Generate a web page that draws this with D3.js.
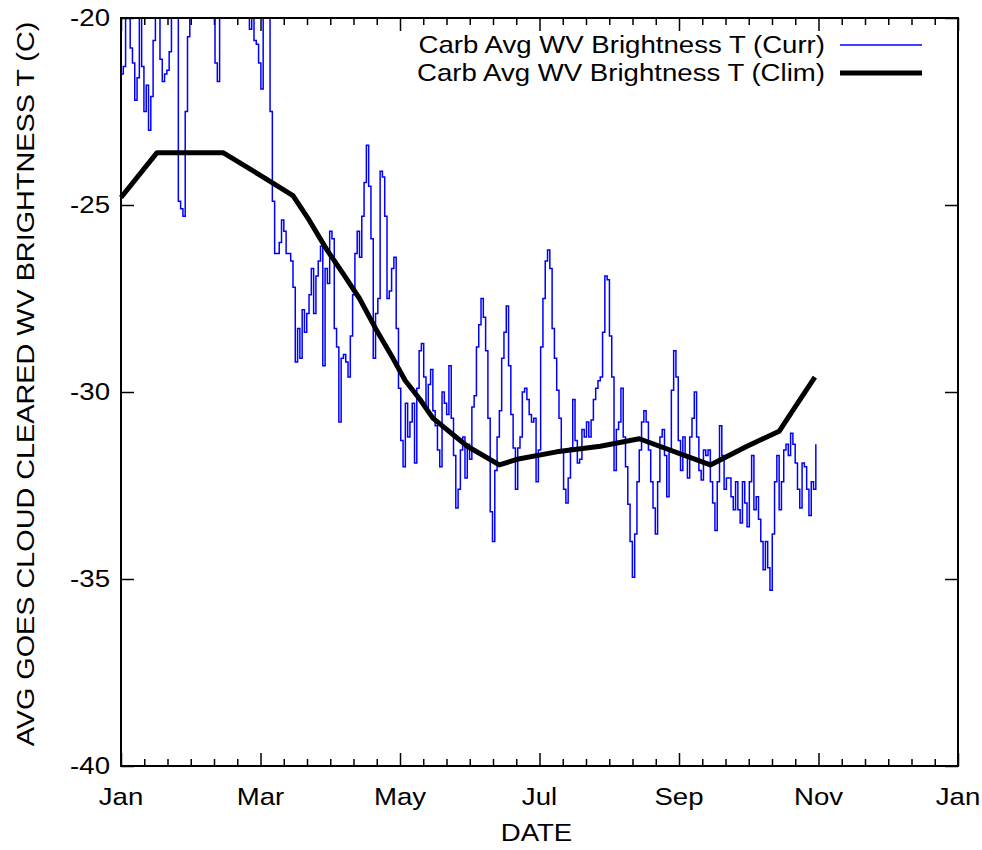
<!DOCTYPE html>
<html>
<head>
<meta charset="utf-8">
<script src="https://cdn.jsdelivr.net/npm/d3@7"></script>
<style>
  body { margin: 0; background: #fff; }
  text { font-family: "Liberation Sans", Arial, sans-serif; fill: #000; }
</style>
</head>
<body>
<div id="chart"></div>
<script>
// Daily current-year values, starting Jan 1 (deg C)
const currTemps = [
  -21.5, -21.3, -19.0, -18.5, -20.8, -21.2, -22.2, -21.6, -19.2, -21.3,
  -22.5, -21.8, -23.0, -22.1, -20.6, -18.8, -19.5, -21.1, -21.7, -21.5,
  -21.4, -20.9, -19.4, -18.7, -19.0, -24.9, -25.1, -25.3, -22.5, -20.5,
  -19.0, -18.5, -17.8, -18.2, -19.0, -18.4, -17.5, -18.0, -18.6, -19.2,
  -18.3, -21.2, -21.7, -19.3, -18.0, -17.6, -18.2, -18.9, -18.5, -17.9,
  -18.1, -18.8, -19.1, -18.4, -18.0, -19.0, -20.3, -19.8, -20.6, -20.7,
  -21.2, -21.9, -19.5, -19.0, -19.5, -22.5, -24.9, -26.3, -26.3, -26.0,
  -25.4, -25.7, -26.3, -26.3, -26.5, -27.2, -29.2, -28.3, -29.1, -27.8,
  -28.4, -27.9, -27.4, -26.7, -27.9, -26.9, -26.5, -26.1, -29.3, -26.7,
  -27.1, -25.7, -25.9, -28.3, -28.8, -30.8, -29.1, -29.0, -29.2, -29.6,
  -28.5, -27.4, -26.3, -25.7, -26.4, -25.3, -24.4, -23.4, -24.5, -25.9,
  -29.1, -27.9, -27.5, -24.1, -24.25, -25.3, -27.5, -27.3, -26.7, -26.4,
  -28.3, -29.9, -31.3, -32.0, -30.3, -31.2, -30.8, -30.3, -31.9, -29.9,
  -28.9, -28.7, -29.6, -30.5, -29.8, -29.4, -30.5, -30.9, -31.55, -32.0,
  -30.0, -30.3, -30.6, -29.3, -30.7, -31.7, -33.1, -32.6, -31.55, -31.2,
  -32.3, -31.4, -31.8, -30.4, -30.1, -28.8, -28.2, -27.5, -28.0, -28.9,
  -30.7, -33.2, -34.0, -32.1, -31.2, -30.5, -29.1, -28.4, -27.7, -29.3,
  -30.6, -31.5, -32.6, -31.5, -31.2, -30.0, -29.9, -30.2, -30.6, -30.8,
  -30.7, -32.4, -31.55, -28.8, -27.5, -26.5, -26.2, -26.7, -28.3, -29.1,
  -29.95, -30.7, -31.55, -32.6, -32.97, -32.3, -31.5, -30.2, -31.3, -31.9,
  -31.8, -31.0, -31.2, -30.8, -31.2, -30.75, -30.2, -29.9, -29.7, -29.6,
  -28.4, -26.9, -27.0, -28.5, -29.6, -32.1, -31.0, -30.8, -29.9, -31.2,
  -32.0, -33.0, -34.0, -34.95, -33.8, -32.4, -31.55, -30.8, -30.5, -30.8,
  -31.55, -32.4, -33.1, -33.8, -32.4, -31.2, -31.0, -31.7, -32.8, -31.55,
  -29.95, -28.9, -29.6, -31.3, -32.1, -31.2, -31.7, -32.3, -31.2, -30.7,
  -30.0, -31.2, -32.1, -32.35, -31.55, -31.7, -31.55, -32.4, -32.97, -33.7,
  -32.4, -30.9, -31.7, -32.6, -32.3, -32.3, -32.8, -33.15, -32.4, -33.15,
  -33.5, -32.4, -32.97, -33.6, -32.4, -31.7, -33.15, -32.8, -33.4, -34.0,
  -34.75, -34.0, -34.7, -35.3, -33.8, -32.4, -31.7, -33.15, -32.4, -31.55,
  -31.4, -31.7, -31.1, -31.4, -31.9, -32.6, -33.1, -31.9, -32.0, -32.6,
  -33.3, -32.4, -32.6, -31.4
];

// Climatology: day of year and value
const climDays = [0, 15.7, 44.5, 60.6, 75, 82, 89.8, 97, 104, 111, 118.6, 124, 130.4, 136,
                  151, 165, 172.7, 190, 209, 226, 257, 273, 287, 294, 302.6];
const climTemps = [-24.8, -23.6, -23.6, -24.2, -24.75, -25.4, -26.2, -26.85, -27.5, -28.3, -29.1, -29.7, -30.2, -30.7,
                   -31.45, -31.95, -31.8, -31.6, -31.45, -31.25, -31.95, -31.45, -31.05, -30.4, -29.6];

const seriesNames = ["Carb Avg WV Brightness T (Curr)", "Carb Avg WV Brightness T (Clim)"];
const monthLabels = ["Jan", "Mar", "May", "Jul", "Sep", "Nov", "Jan"];
const yTicks = [-40, -35, -30, -25, -20];

const width = 982, height = 850;
const margin = { top: 18, right: 24, bottom: 84, left: 121 };
const plotW = width - margin.left - margin.right;
const plotH = height - margin.top - margin.bottom;
const fontSize = 24, stretch = 1.15;

const svg = d3.select("#chart").append("svg")
    .attr("width", width)
    .attr("height", height);

const g = svg.append("g")
    .attr("transform", `translate(${margin.left},${margin.top})`);

// Scales
const x = d3.scaleLinear().domain([0, 365]).range([0, plotW]);
const y = d3.scaleLinear().domain([-40, -20]).range([plotH, 0]);

// gnuplot-like stretched text
function label(parent, tx, ty, txt, anchor, sx, rot) {
    return parent.append("text")
        .attr("transform", `translate(${tx},${ty})` + (rot ? ` rotate(${rot})` : "") + ` scale(${sx},1)`)
        .attr("text-anchor", anchor)
        .attr("dominant-baseline", "central")
        .style("font-size", fontSize + "px")
        .text(txt);
}

// Ticks (inward, mirrored on all sides)
const majorX = d3.range(7).map(i => i * 365 / 6);
const minorX = d3.range(37).filter(i => i % 6 !== 0).map(i => i * 365 / 36);

function tickGroup(axis, tx, ty) {
    const t = g.append("g")
        .attr("transform", `translate(${tx},${ty})`)
        .call(axis.tickFormat(""));
    t.select(".domain").remove();
    t.selectAll("line").attr("stroke", "#000").attr("stroke-width", 1.5);
}
tickGroup(d3.axisBottom(x).tickValues(majorX).tickSize(-13), 0, plotH);
tickGroup(d3.axisBottom(x).tickValues(minorX).tickSize(-7), 0, plotH);
tickGroup(d3.axisTop(x).tickValues(majorX).tickSize(-13), 0, 0);
tickGroup(d3.axisTop(x).tickValues(minorX).tickSize(-7), 0, 0);
tickGroup(d3.axisLeft(y).tickValues(yTicks).tickSize(-13), 0, 0);
tickGroup(d3.axisRight(y).tickValues(yTicks).tickSize(-13), plotW, 0);

// Tick labels
majorX.forEach((d, i) => label(g, x(d), plotH + 31, monthLabels[i], "middle", stretch));
yTicks.forEach(d => label(g, -11, y(d), d, "end", stretch));

// Axis titles
label(g, plotW / 2 - 3, plotH + 67, "DATE", "middle", stretch);
label(svg, 26, margin.top + plotH / 2 - 8, "AVG GOES CLOUD CLEARED WV BRIGHTNESS T (C)", "middle", 1.2, -90);

// Clip for the data
g.append("clipPath").attr("id", "plotClip")
  .append("rect").attr("width", plotW).attr("height", plotH);

// Current year line
const currLine = d3.line()
    .x((d, i) => x(i))
    .y(d => y(d))
    .curve(d3.curveStepAfter);

g.append("path")
    .datum(currTemps)
    .attr("clip-path", "url(#plotClip)")
    .attr("fill", "none")
    .attr("stroke", "#0000ff")
    .attr("stroke-width", 1.5)
    .attr("d", currLine);

// Climatology line
const climLine = d3.line()
    .x(d => x(d[0]))
    .y(d => y(d[1]));

g.append("path")
    .datum(d3.zip(climDays, climTemps))
    .attr("fill", "none")
    .attr("stroke", "#000")
    .attr("stroke-width", 5)
    .attr("stroke-linejoin", "round")
    .attr("d", climLine);

// Frame
g.append("rect")
    .attr("width", plotW)
    .attr("height", plotH)
    .attr("fill", "none")
    .attr("stroke", "#000")
    .attr("stroke-width", 2);

// Legend
const legendStyles = [{ color: "#0000ff", w: 1.5 }, { color: "#000", w: 5 }];
seriesNames.forEach((name, i) => {
    const ly = 27 + i * 28;
    label(g, 704, ly, name, "end", stretch);
    g.append("line")
        .attr("x1", 719).attr("x2", 801)
        .attr("y1", ly).attr("y2", ly)
        .attr("stroke", legendStyles[i].color)
        .attr("stroke-width", legendStyles[i].w);
});
</script>
</body>
</html>
